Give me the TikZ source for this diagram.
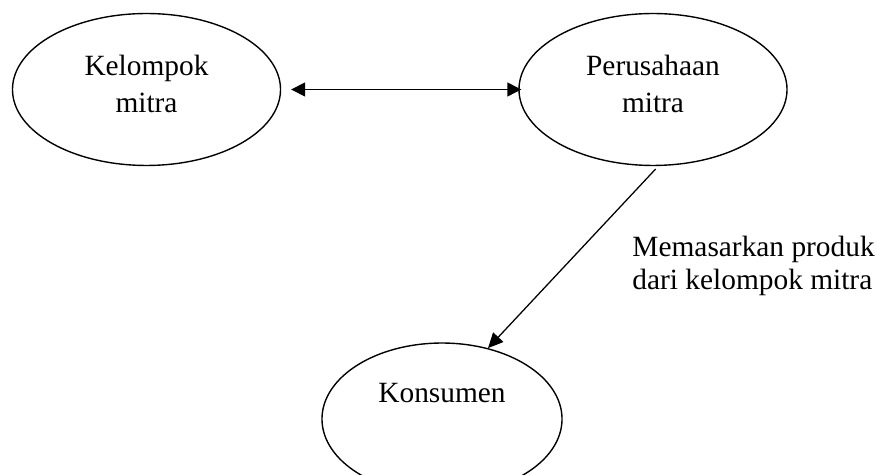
\documentclass[tikz,border=0pt]{standalone}
\usepackage{fontspec}
\setmainfont{Liberation Serif}
\usetikzlibrary{shapes.geometric, arrows.meta, positioning}
\tikzset{
    party/.style={ellipse, draw, line width=0.6pt, minimum width=115.9pt, minimum height=65.7pt, align=center, inner sep=0pt, text depth=5.2pt, font=\fontsize{12.7}{16}\selectfont},
    link/.style={line width=0.55pt, {Triangle[length=6pt, width=6pt]}-{Triangle[length=6pt, width=6pt]}},
    flow_arrow/.style={line width=0.55pt, -{Triangle[length=6.5pt, width=6pt]}},
    note/.style={font=\fontsize{12.7}{14.3}\selectfont, align=left, inner sep=0pt}
}

\begin{document}
\begin{tikzpicture}[x=0.4324pt, y=-0.4324pt]
    \clip (0,0) rectangle (877,475);
    % --- Nodes ---
    \node (kelompok) [party] at (146.5,89.5) {Kelompok\\mitra};
    \node (perusahaan) [party] at (653,89.5) {Perusahaan\\mitra};
    \node (konsumen) [party, minimum width=103.8pt, text depth=22.3pt] at (442,419) {Konsumen};
    \node (keterangan) [note, anchor=base west] at (632,290) {Memasarkan produk\\dari kelompok mitra};

    % --- Arrows ---
    \draw[link, shorten <=4.3pt, shorten >=-1.3pt] (kelompok) -- (perusahaan);
    \draw[flow_arrow, shorten <=1.7pt] (perusahaan.-86) -- (konsumen.57.5);
\end{tikzpicture}
\end{document}
